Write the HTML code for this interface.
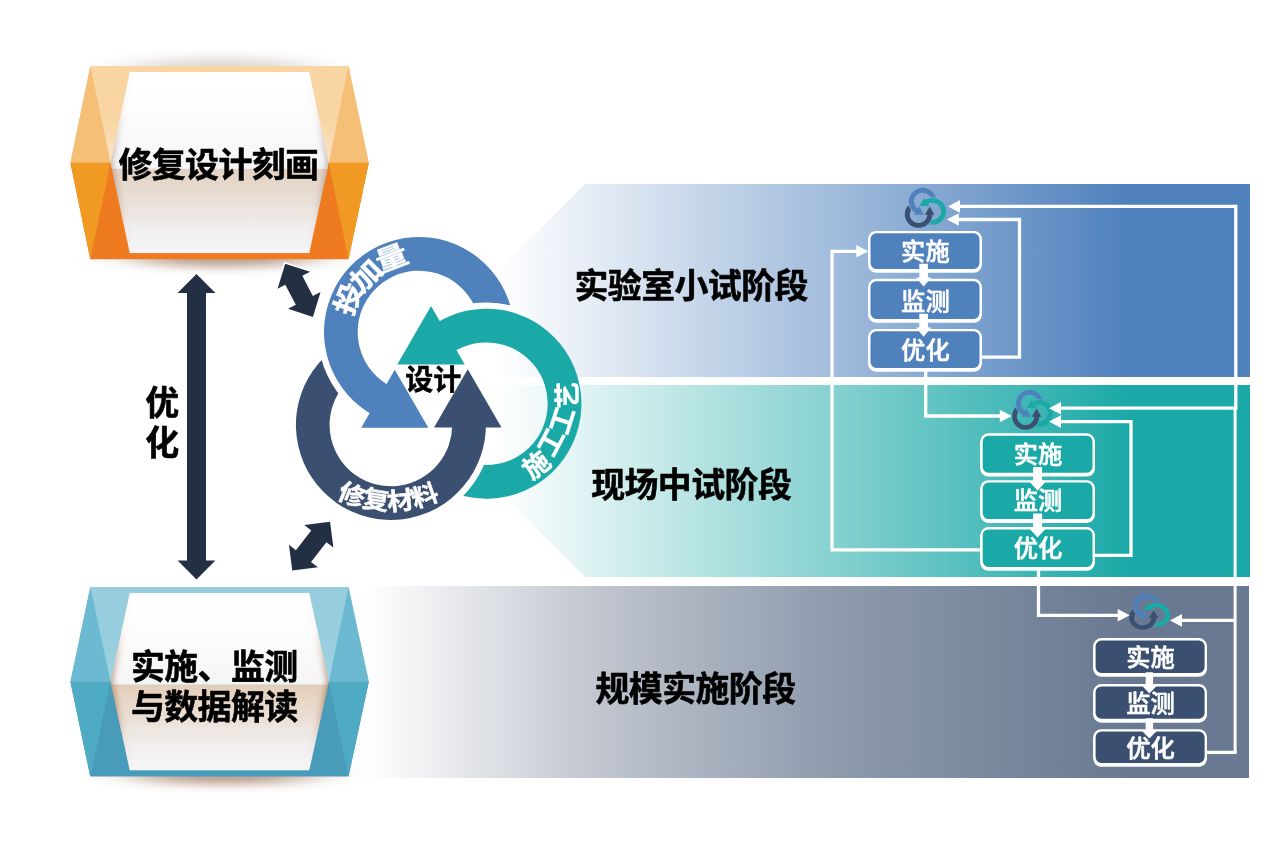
<!DOCTYPE html>
<html lang="zh-CN">
<head>
<meta charset="utf-8">
<title>修复设计刻画</title>
<style>
html,body{margin:0;padding:0;background:#fff;}
body{width:1284px;height:855px;overflow:hidden;}
svg{display:block;font-family:"Liberation Sans","Noto Sans CJK SC",sans-serif;opacity:.999;}
text{font-family:"Liberation Sans","Noto Sans CJK SC",sans-serif;}
</style>
</head>
<body>

<svg width="1284" height="855" viewBox="0 0 1284 855" role="img" aria-label="修复设计刻画流程图">
<defs><filter id="blur8" x="-60%" y="-300%" width="220%" height="700%"><feGaussianBlur stdDeviation="26 5.5"/></filter><filter id="blur7" x="-60%" y="-300%" width="220%" height="700%"><feGaussianBlur stdDeviation="28 5"/></filter><linearGradient id="gb1" gradientUnits="userSpaceOnUse" x1="497" y1="0" x2="1128" y2="0"><stop offset="0" stop-color="#ffffff"/><stop offset="1" stop-color="#4f81bd"/></linearGradient><linearGradient id="gb2" gradientUnits="userSpaceOnUse" x1="497" y1="0" x2="1128" y2="0"><stop offset="0" stop-color="#ffffff"/><stop offset="1" stop-color="#1ba9a7"/></linearGradient><linearGradient id="gb3" gradientUnits="userSpaceOnUse" x1="367" y1="0" x2="1128" y2="0"><stop offset="0" stop-color="#ffffff"/><stop offset=".3" stop-color="#c1c6cf"/><stop offset=".6" stop-color="#909cae"/><stop offset="1" stop-color="#687991"/></linearGradient></defs>
<g id="bands">
<polygon points="585,184 1250,184 1250,377 392,377" fill="url(#gb1)"/>
<polygon points="392,385 1250,385 1250,577 585,577" fill="url(#gb2)"/>
<rect x="367" y="586" width="882" height="192" fill="url(#gb3)"/>
</g>
<g id="hexTop">
<ellipse cx="219.6" cy="67.1" rx="92" ry="9" fill="#85756c" opacity=".28" filter="url(#blur8)"/>
<ellipse cx="223.6" cy="258.2" rx="90" ry="9" fill="#8f6446" opacity=".62" filter="url(#blur7)"/>
<defs><linearGradient id="gh1t" x1="0" y1="0" x2="0" y2="1"><stop offset="0" stop-color="#f8d5a3"/><stop offset=".55" stop-color="#f8d5a3"/><stop offset="1" stop-color="#fbe4c6"/></linearGradient></defs>
<polygon points="90.3,66.1 348.5,66.1 368.8,162.65 70.4,162.65" fill="url(#gh1t)"/>
<polygon points="90.3,66.1 70.4,162.65 110.6,162.65" fill="#f5bf78"/>
<polygon points="348.5,66.1 368.8,162.65 328.8,162.65" fill="#f5bf78"/>
<polygon points="70.4,162.65 368.8,162.65 348.5,259.2 90.3,259.2" fill="#ee7b20"/>
<polygon points="70.4,162.65 110.6,162.65 90.3,259.2" fill="#f09a23"/>
<polygon points="368.8,162.65 328.8,162.65 348.5,259.2" fill="#f09a23"/>
<defs><linearGradient id="gh1p" gradientUnits="userSpaceOnUse" x1="0" y1="72" x2="0" y2="168.95"><stop offset="0" stop-color="#ffffff"/><stop offset=".4" stop-color="#fdfdfd"/><stop offset="1" stop-color="#f5f5f7"/></linearGradient><linearGradient id="gh1q" gradientUnits="userSpaceOnUse" x1="0" y1="168.95" x2="0" y2="253.2"><stop offset="0" stop-color="#e3d3c4"/><stop offset=".22" stop-color="#e6d9cd"/><stop offset=".7" stop-color="#f1eeee"/><stop offset="1" stop-color="#f5f5f8"/></linearGradient><clipPath id="ch1"><polygon points="129.8,72 309.2,72 328.8,162.65 309.2,253.2 129.8,253.2 110.6,162.65" fill="#000"/></clipPath><filter id="blh1" x="-50%" y="-10%" width="200%" height="120%"><feGaussianBlur stdDeviation="3.2"/></filter></defs>
<g clip-path="url(#ch1)">
<rect x="110.6" y="72" width="218.2" height="96.95" fill="url(#gh1p)"/>
<rect x="110.6" y="168.95" width="218.2" height="84.25" fill="url(#gh1q)"/>
<defs><linearGradient id="gh1v" gradientUnits="userSpaceOnUse" x1="0" y1="72" x2="0" y2="253.2"><stop offset="0" stop-color="#8a6650" stop-opacity="0"/><stop offset=".2" stop-color="#8a6650" stop-opacity=".08"/><stop offset=".5" stop-color="#8a6650" stop-opacity="0.5"/><stop offset=".62" stop-color="#8a6650" stop-opacity="0.42"/><stop offset=".85" stop-color="#8a6650" stop-opacity=".06"/><stop offset="1" stop-color="#8a6650" stop-opacity="0"/></linearGradient></defs>
<polyline points="126.8,72 107.6,162.65 126.8,253.2" fill="none" stroke="url(#gh1v)" stroke-width="9" filter="url(#blh1)"/>
<polyline points="312.2,72 331.8,162.65 312.2,253.2" fill="none" stroke="url(#gh1v)" stroke-width="9" filter="url(#blh1)"/>
</g>
<text x="218.4" y="176.6" font-size="33.9" letter-spacing="-.55" font-weight="700" text-anchor="middle" fill="#000" stroke="#000" stroke-width=".6" stroke-linejoin="round">修复设计刻画</text>
</g>
<g id="hexBottom">
<ellipse cx="223.6" cy="775.6" rx="90" ry="9" fill="#8f6446" opacity=".62" filter="url(#blur7)"/>
<defs><linearGradient id="gh2t" x1="0" y1="0" x2="0" y2="1"><stop offset="0" stop-color="#97cedd"/><stop offset=".55" stop-color="#97cedd"/><stop offset="1" stop-color="#a2d3e1"/></linearGradient></defs>
<polygon points="90.3,587.1 348.5,587.1 368.8,681.85 70.4,681.85" fill="url(#gh2t)"/>
<polygon points="90.3,587.1 70.4,681.85 110.6,681.85" fill="#6bbad1"/>
<polygon points="348.5,587.1 368.8,681.85 328.8,681.85" fill="#6bbad1"/>
<polygon points="70.4,681.85 368.8,681.85 348.5,776.6 90.3,776.6" fill="#489bb9"/>
<polygon points="70.4,681.85 110.6,681.85 90.3,776.6" fill="#4faac4"/>
<polygon points="368.8,681.85 328.8,681.85 348.5,776.6" fill="#4faac4"/>
<defs><linearGradient id="gh2p" gradientUnits="userSpaceOnUse" x1="0" y1="593" x2="0" y2="684.85"><stop offset="0" stop-color="#ffffff"/><stop offset=".4" stop-color="#fdfdfd"/><stop offset="1" stop-color="#f5f5f7"/></linearGradient><linearGradient id="gh2q" gradientUnits="userSpaceOnUse" x1="0" y1="684.85" x2="0" y2="770.6"><stop offset="0" stop-color="#e3cdb8"/><stop offset=".22" stop-color="#e8d8c9"/><stop offset=".7" stop-color="#f1eeee"/><stop offset="1" stop-color="#f5f5f8"/></linearGradient><clipPath id="ch2"><polygon points="129.8,593 309.2,593 328.8,681.85 309.2,770.6 129.8,770.6 110.6,681.85" fill="#000"/></clipPath><filter id="blh2" x="-50%" y="-10%" width="200%" height="120%"><feGaussianBlur stdDeviation="3.2"/></filter></defs>
<g clip-path="url(#ch2)">
<rect x="110.6" y="593" width="218.2" height="91.85" fill="url(#gh2p)"/>
<rect x="110.6" y="684.85" width="218.2" height="85.75" fill="url(#gh2q)"/>
<defs><linearGradient id="gh2v" gradientUnits="userSpaceOnUse" x1="0" y1="593" x2="0" y2="770.6"><stop offset="0" stop-color="#a56c42" stop-opacity="0"/><stop offset=".2" stop-color="#a56c42" stop-opacity=".08"/><stop offset=".5" stop-color="#a56c42" stop-opacity="0.75"/><stop offset=".62" stop-color="#a56c42" stop-opacity="0.65"/><stop offset=".85" stop-color="#a56c42" stop-opacity=".06"/><stop offset="1" stop-color="#a56c42" stop-opacity="0"/></linearGradient></defs>
<polyline points="126.8,593 107.6,681.85 126.8,770.6" fill="none" stroke="url(#gh2v)" stroke-width="9" filter="url(#blh2)"/>
<polyline points="312.2,593 331.8,681.85 312.2,770.6" fill="none" stroke="url(#gh2v)" stroke-width="9" filter="url(#blh2)"/>
</g>
<text x="214.3" y="679.4" font-size="33.9" letter-spacing="-.55" font-weight="700" text-anchor="middle" fill="#000" stroke="#000" stroke-width=".6" stroke-linejoin="round">实施、监测</text>
<text x="214.3" y="719.1" font-size="33.9" letter-spacing="-.55" font-weight="700" text-anchor="middle" fill="#000" stroke="#000" stroke-width=".6" stroke-linejoin="round">与数据解读</text>
</g>
<g id="bigArrows">
<polygon points="196.5,274 177.6,292.9 187,292.9 187,560.6 177.6,560.6 196.5,579.5 215.4,560.6 206,560.6 206,292.9 215.4,292.9" fill="#233044" stroke="#fff" stroke-width="3" paint-order="stroke" stroke-linejoin="miter"/>
<polygon points="285.2,263.7 277.56,288.65 285.28,284.63 295.8,304.84 288.08,308.85 312.9,316.9 320.54,291.95 312.82,295.97 302.3,275.76 310.02,271.75" fill="#233044" stroke="#fff" stroke-width="3" paint-order="stroke" stroke-linejoin="miter"/>
<polygon points="292.25,570.5 318.01,567.34 311.06,561.94 326.4,542.19 333.35,547.59 330.05,521.85 304.29,525.01 311.24,530.41 295.9,550.16 288.95,544.76" fill="#233044" stroke="#fff" stroke-width="3" paint-order="stroke" stroke-linejoin="miter"/>
<text x="162.3" y="415" font-size="33.9" font-weight="700" text-anchor="middle" fill="#000" stroke="#000" stroke-width=".6" stroke-linejoin="round"><tspan x="162.3" y="415">优</tspan><tspan x="162.3" y="455">化</tspan></text>
</g>
<g id="arrows"><defs>
<mask id="mA_blue" maskUnits="userSpaceOnUse" x="250" y="200" width="380" height="360"><rect x="250" y="200" width="380" height="360" fill="#fff"/><path d="M449.44 309.38 A101.3 101.3 0 1 1 420.48 480.61 L450.61 445.46 A55 55 0 1 0 466.33 352.49 Z" fill="#000"/></mask>
<mask id="mA_teal" maskUnits="userSpaceOnUse" x="250" y="200" width="380" height="360"><rect x="250" y="200" width="380" height="360" fill="#fff"/><path d="M490.69 442.42 A101.3 101.3 0 1 1 359.43 328.71 L373.81 372.72 A55 55 0 1 0 445.08 434.46 Z" fill="#000"/></mask>
<mask id="mA_navy" maskUnits="userSpaceOnUse" x="250" y="200" width="380" height="360"><rect x="250" y="200" width="380" height="360" fill="#fff"/><path d="M354.57 410.17 A101.3 101.3 0 1 1 518.27 352.2 L472.9 342.97 A55 55 0 1 0 384.02 374.44 Z" fill="#000"/></mask>
</defs>
<g fill="#3b5070"><path d="M485.84 421.52 A95 95 0 1 1 361.39 334.7 L371.86 366.73 A61.3 61.3 0 1 0 452.16 422.75 Z" mask="url(#mA_navy)"/><path d="M501.5 427.6 L467.75 369.14 L434 427.6 Z"/></g>
<g fill="#4f81bd"><path d="M375.13 416.27 A95 95 0 1 1 512.09 350.94 L479.07 344.22 A61.3 61.3 0 1 0 390.69 386.37 Z" mask="url(#mA_blue)"/><path d="M361.23 427.76 L428.32 427.76 L394.77 369.64 Z"/></g>
<g fill="#1ba9a7"><path d="M434.1 324.39 A95 95 0 1 1 424.58 475.83 L446.51 450.24 A61.3 61.3 0 1 0 452.66 352.52 Z" mask="url(#mA_teal)"/><path d="M431.02 306.07 L397.27 364.53 L464.77 364.53 Z"/></g></g>
<g id="arcText">
<g aria-label="投加量"><text transform="translate(348.77 298.85) rotate(291.6) scale(1.18 1)" font-size="27.5" text-anchor="middle" dominant-baseline="central" fill="#fff" stroke="#fff" stroke-width=".4" stroke-linejoin="round" font-weight="700">投</text><text transform="translate(366.58 275.65) rotate(315.3) scale(1.18 1)" font-size="27.5" text-anchor="middle" dominant-baseline="central" fill="#fff" stroke="#fff" stroke-width=".4" stroke-linejoin="round" font-weight="700">加</text><text transform="translate(391.82 258.35) rotate(339) scale(1.18 1)" font-size="27.5" text-anchor="middle" dominant-baseline="central" fill="#fff" stroke="#fff" stroke-width=".4" stroke-linejoin="round" font-weight="700">量</text></g>
<g aria-label="修复材料"><text transform="translate(351.87 495.22) rotate(22.16) scale(1.08 1)" font-size="24.8" text-anchor="middle" dominant-baseline="central" fill="#fff" stroke="#fff" stroke-width=".4" stroke-linejoin="round" font-weight="700">修</text><text transform="translate(375.77 500.1) rotate(9.04) scale(1.08 1)" font-size="24.8" text-anchor="middle" dominant-baseline="central" fill="#fff" stroke="#fff" stroke-width=".4" stroke-linejoin="round" font-weight="700">复</text><text transform="translate(400.31 500.92) rotate(-6.08) scale(1.08 1)" font-size="24.8" text-anchor="middle" dominant-baseline="central" fill="#fff" stroke="#fff" stroke-width=".4" stroke-linejoin="round" font-weight="700">材</text><text transform="translate(424.85 495.89) rotate(-19.2) scale(1.08 1)" font-size="24.8" text-anchor="middle" dominant-baseline="central" fill="#fff" stroke="#fff" stroke-width=".4" stroke-linejoin="round" font-weight="700">料</text></g>
<g aria-label="施工工艺"><text transform="translate(536.67 465.35) rotate(-38.7) scale(1 1)" font-size="26.5" text-anchor="middle" dominant-baseline="central" fill="#fff" stroke="#fff" stroke-width=".4" stroke-linejoin="round" font-weight="700">施</text><text transform="translate(551.51 442.45) rotate(-62.3) scale(1 1)" font-size="26.5" text-anchor="middle" dominant-baseline="central" fill="#fff" stroke="#fff" stroke-width=".4" stroke-linejoin="round" font-weight="700">工</text><text transform="translate(562.71 420.55) rotate(-72.3) scale(1 1)" font-size="26.5" text-anchor="middle" dominant-baseline="central" fill="#fff" stroke="#fff" stroke-width=".4" stroke-linejoin="round" font-weight="700">工</text><text transform="translate(567.81 395.31) rotate(-91.5) scale(1 1)" font-size="26.5" text-anchor="middle" dominant-baseline="central" fill="#fff" stroke="#fff" stroke-width=".4" stroke-linejoin="round" font-weight="700">艺</text></g>
<text x="433.2" y="390.0" font-size="28" font-weight="700" text-anchor="middle" fill="#000" stroke="#000" stroke-width=".5" stroke-linejoin="round">设计</text>
</g>
<g id="labels" font-size="33.9" letter-spacing="-.55" font-weight="700" text-anchor="middle" fill="#000" stroke="#000" stroke-width=".6" stroke-linejoin="round">
<text x="691.2" y="298">实验室小试阶段</text>
<text x="691.2" y="497">现场中试阶段</text>
<text x="695.5" y="701">规模实施阶段</text>
</g>
<g id="icons">
<g transform="translate(904.8 187.9) scale(0.14466 0.14099) translate(-295.9 -237)"><use href="#arrows"/></g>
<g transform="translate(1012.1 389.9) scale(0.14256 0.14099) translate(-295.9 -237)"><use href="#arrows"/></g>
<g transform="translate(1129.1 593.9) scale(0.14326 0.12650) translate(-295.9 -237)"><use href="#arrows"/></g>
</g>
<g id="lines">
<polyline points="1235.1,752.4 1235.1,408.2" fill="none" stroke="#fff" stroke-width="3" stroke-linejoin="miter"/>
<polyline points="1235.8,409.8 1235.8,206.4 959,206.4" fill="none" stroke="#fff" stroke-width="3.3" stroke-linejoin="miter"/>
<polygon points="948,206.4 960,200.1 960,212.7" fill="#fff"/>
<polyline points="981,357.2 1019.5,357.2 1019.5,219.5 958,219.5" fill="none" stroke="#fff" stroke-width="3.3" stroke-linejoin="miter"/>
<polygon points="946.8,219.5 958.8,213.2 958.8,225.8" fill="#fff"/>
<polyline points="981,549.8 832,549.8 832,251.3 858,251.3" fill="none" stroke="#fff" stroke-width="3.3" stroke-linejoin="miter"/>
<polygon points="868.3,251.3 856.3,245 856.3,257.6" fill="#fff"/>
<polyline points="925.7,370 925.7,416 1001,416" fill="none" stroke="#fff" stroke-width="3.3" stroke-linejoin="miter"/>
<polygon points="1011.8,416 999.8,409.7 999.8,422.3" fill="#fff"/>
<polyline points="1235.8,408.2 1060,408.2" fill="none" stroke="#fff" stroke-width="3.3" stroke-linejoin="miter"/>
<polygon points="1049,408.2 1061,401.9 1061,414.5" fill="#fff"/>
<polyline points="1094,555.3 1131,555.3 1131,421.6 1060,421.6" fill="none" stroke="#fff" stroke-width="3.3" stroke-linejoin="miter"/>
<polygon points="1049,421.6 1061,415.3 1061,427.9" fill="#fff"/>
<polyline points="1038.5,569 1038.5,615.3 1119,615.3" fill="none" stroke="#fff" stroke-width="3.3" stroke-linejoin="miter"/>
<polygon points="1129.7,615.3 1117.7,609 1117.7,621.6" fill="#fff"/>
<polyline points="1206,752.4 1236.6,752.4" fill="none" stroke="#fff" stroke-width="3.3" stroke-linejoin="miter"/>
<polyline points="1235.8,620.4 1181,620.4" fill="none" stroke="#fff" stroke-width="3.3" stroke-linejoin="miter"/>
<polygon points="1170,620.4 1182,614.1 1182,626.7" fill="#fff"/>
</g>
<g id="flowBlue"><rect x="869.3" y="233.6" width="111.4" height="38" rx="7" fill="#4f81bd" stroke="#fff" stroke-width="2.4"/>
<rect x="869.3" y="232.1" width="111.4" height="38" rx="7" fill="#4f81bd" stroke="#fff" stroke-width="2.4"/>
<rect x="869.3" y="281.5" width="111.4" height="40.1" rx="7" fill="#4f81bd" stroke="#fff" stroke-width="2.4"/>
<rect x="869.3" y="280" width="111.4" height="40.1" rx="7" fill="#4f81bd" stroke="#fff" stroke-width="2.4"/>
<rect x="869.3" y="331.6" width="111.4" height="39" rx="7" fill="#4f81bd" stroke="#fff" stroke-width="2.4"/>
<rect x="869.3" y="330.1" width="111.4" height="39" rx="7" fill="#4f81bd" stroke="#fff" stroke-width="2.4"/>
<text x="925.4" y="259.95" font-size="24.3" font-weight="500" stroke="#fff" stroke-width=".55" stroke-linejoin="round" text-anchor="middle" fill="#fff">实施</text>
<text x="925.4" y="309.6" font-size="24.3" font-weight="500" stroke="#fff" stroke-width=".55" stroke-linejoin="round" text-anchor="middle" fill="#fff">监测</text>
<text x="925.4" y="358.65" font-size="24.3" font-weight="500" stroke="#fff" stroke-width=".55" stroke-linejoin="round" text-anchor="middle" fill="#fff">优化</text>
<polygon points="919.3,263.8 927.9,263.8 927.9,277.5 931.25,277.5 923.6,286.6 915.95,277.5 919.3,277.5" fill="#fff"/>
<polygon points="919.3,313.8 927.9,313.8 927.9,327.6 931.25,327.6 923.6,336.7 915.95,327.6 919.3,327.6" fill="#fff"/></g>
<g id="flowTeal"><rect x="981.5" y="436" width="112.2" height="39.4" rx="7" fill="#1ba9a7" stroke="#fff" stroke-width="2.4"/>
<rect x="981.5" y="434.5" width="112.2" height="39.4" rx="7" fill="#1ba9a7" stroke="#fff" stroke-width="2.4"/>
<rect x="981.5" y="482.9" width="112.2" height="38.9" rx="7" fill="#1ba9a7" stroke="#fff" stroke-width="2.4"/>
<rect x="981.5" y="481.4" width="112.2" height="38.9" rx="7" fill="#1ba9a7" stroke="#fff" stroke-width="2.4"/>
<rect x="981.5" y="529.7" width="112.2" height="39.9" rx="7" fill="#1ba9a7" stroke="#fff" stroke-width="2.4"/>
<rect x="981.5" y="528.2" width="112.2" height="39.9" rx="7" fill="#1ba9a7" stroke="#fff" stroke-width="2.4"/>
<text x="1038" y="462.75" font-size="24.3" font-weight="500" stroke="#fff" stroke-width=".55" stroke-linejoin="round" text-anchor="middle" fill="#fff">实施</text>
<text x="1038" y="509.4" font-size="24.3" font-weight="500" stroke="#fff" stroke-width=".55" stroke-linejoin="round" text-anchor="middle" fill="#fff">监测</text>
<text x="1038" y="556.7" font-size="24.3" font-weight="500" stroke="#fff" stroke-width=".55" stroke-linejoin="round" text-anchor="middle" fill="#fff">优化</text>
<polygon points="1033.1,467 1042.1,467 1042.1,482.1 1045.45,482.1 1037.6,490.7 1029.75,482.1 1033.1,482.1" fill="#fff"/>
<polygon points="1033.1,513.4 1042.1,513.4 1042.1,528.9 1045.45,528.9 1037.6,537.5 1029.75,528.9 1033.1,528.9" fill="#fff"/></g>
<g id="flowGray"><rect x="1094.4" y="640.8" width="111.4" height="34.8" rx="7" fill="#3b5070" stroke="#fff" stroke-width="2.4"/>
<rect x="1094.4" y="639.3" width="111.4" height="34.8" rx="7" fill="#3b5070" stroke="#fff" stroke-width="2.4"/>
<rect x="1094.4" y="686.7" width="111.4" height="34.8" rx="7" fill="#3b5070" stroke="#fff" stroke-width="2.4"/>
<rect x="1094.4" y="685.2" width="111.4" height="34.8" rx="7" fill="#3b5070" stroke="#fff" stroke-width="2.4"/>
<rect x="1094.4" y="731.9" width="111.4" height="33.7" rx="7" fill="#3b5070" stroke="#fff" stroke-width="2.4"/>
<rect x="1094.4" y="730.4" width="111.4" height="33.7" rx="7" fill="#3b5070" stroke="#fff" stroke-width="2.4"/>
<text x="1150.5" y="666.05" font-size="24.3" font-weight="500" stroke="#fff" stroke-width=".55" stroke-linejoin="round" text-anchor="middle" fill="#fff">实施</text>
<text x="1150.5" y="711.95" font-size="24.3" font-weight="500" stroke="#fff" stroke-width=".55" stroke-linejoin="round" text-anchor="middle" fill="#fff">监测</text>
<text x="1150.5" y="756.6" font-size="24.3" font-weight="500" stroke="#fff" stroke-width=".55" stroke-linejoin="round" text-anchor="middle" fill="#fff">优化</text>
<polygon points="1145.7,672.3 1153.1,672.3 1153.1,685.8 1156.75,685.8 1149.4,693.4 1142.05,685.8 1145.7,685.8" fill="#fff"/>
<polygon points="1145.7,718.2 1153.1,718.2 1153.1,731 1156.75,731 1149.4,738.6 1142.05,731 1145.7,731" fill="#fff"/></g>
</svg>
</body>
</html>
